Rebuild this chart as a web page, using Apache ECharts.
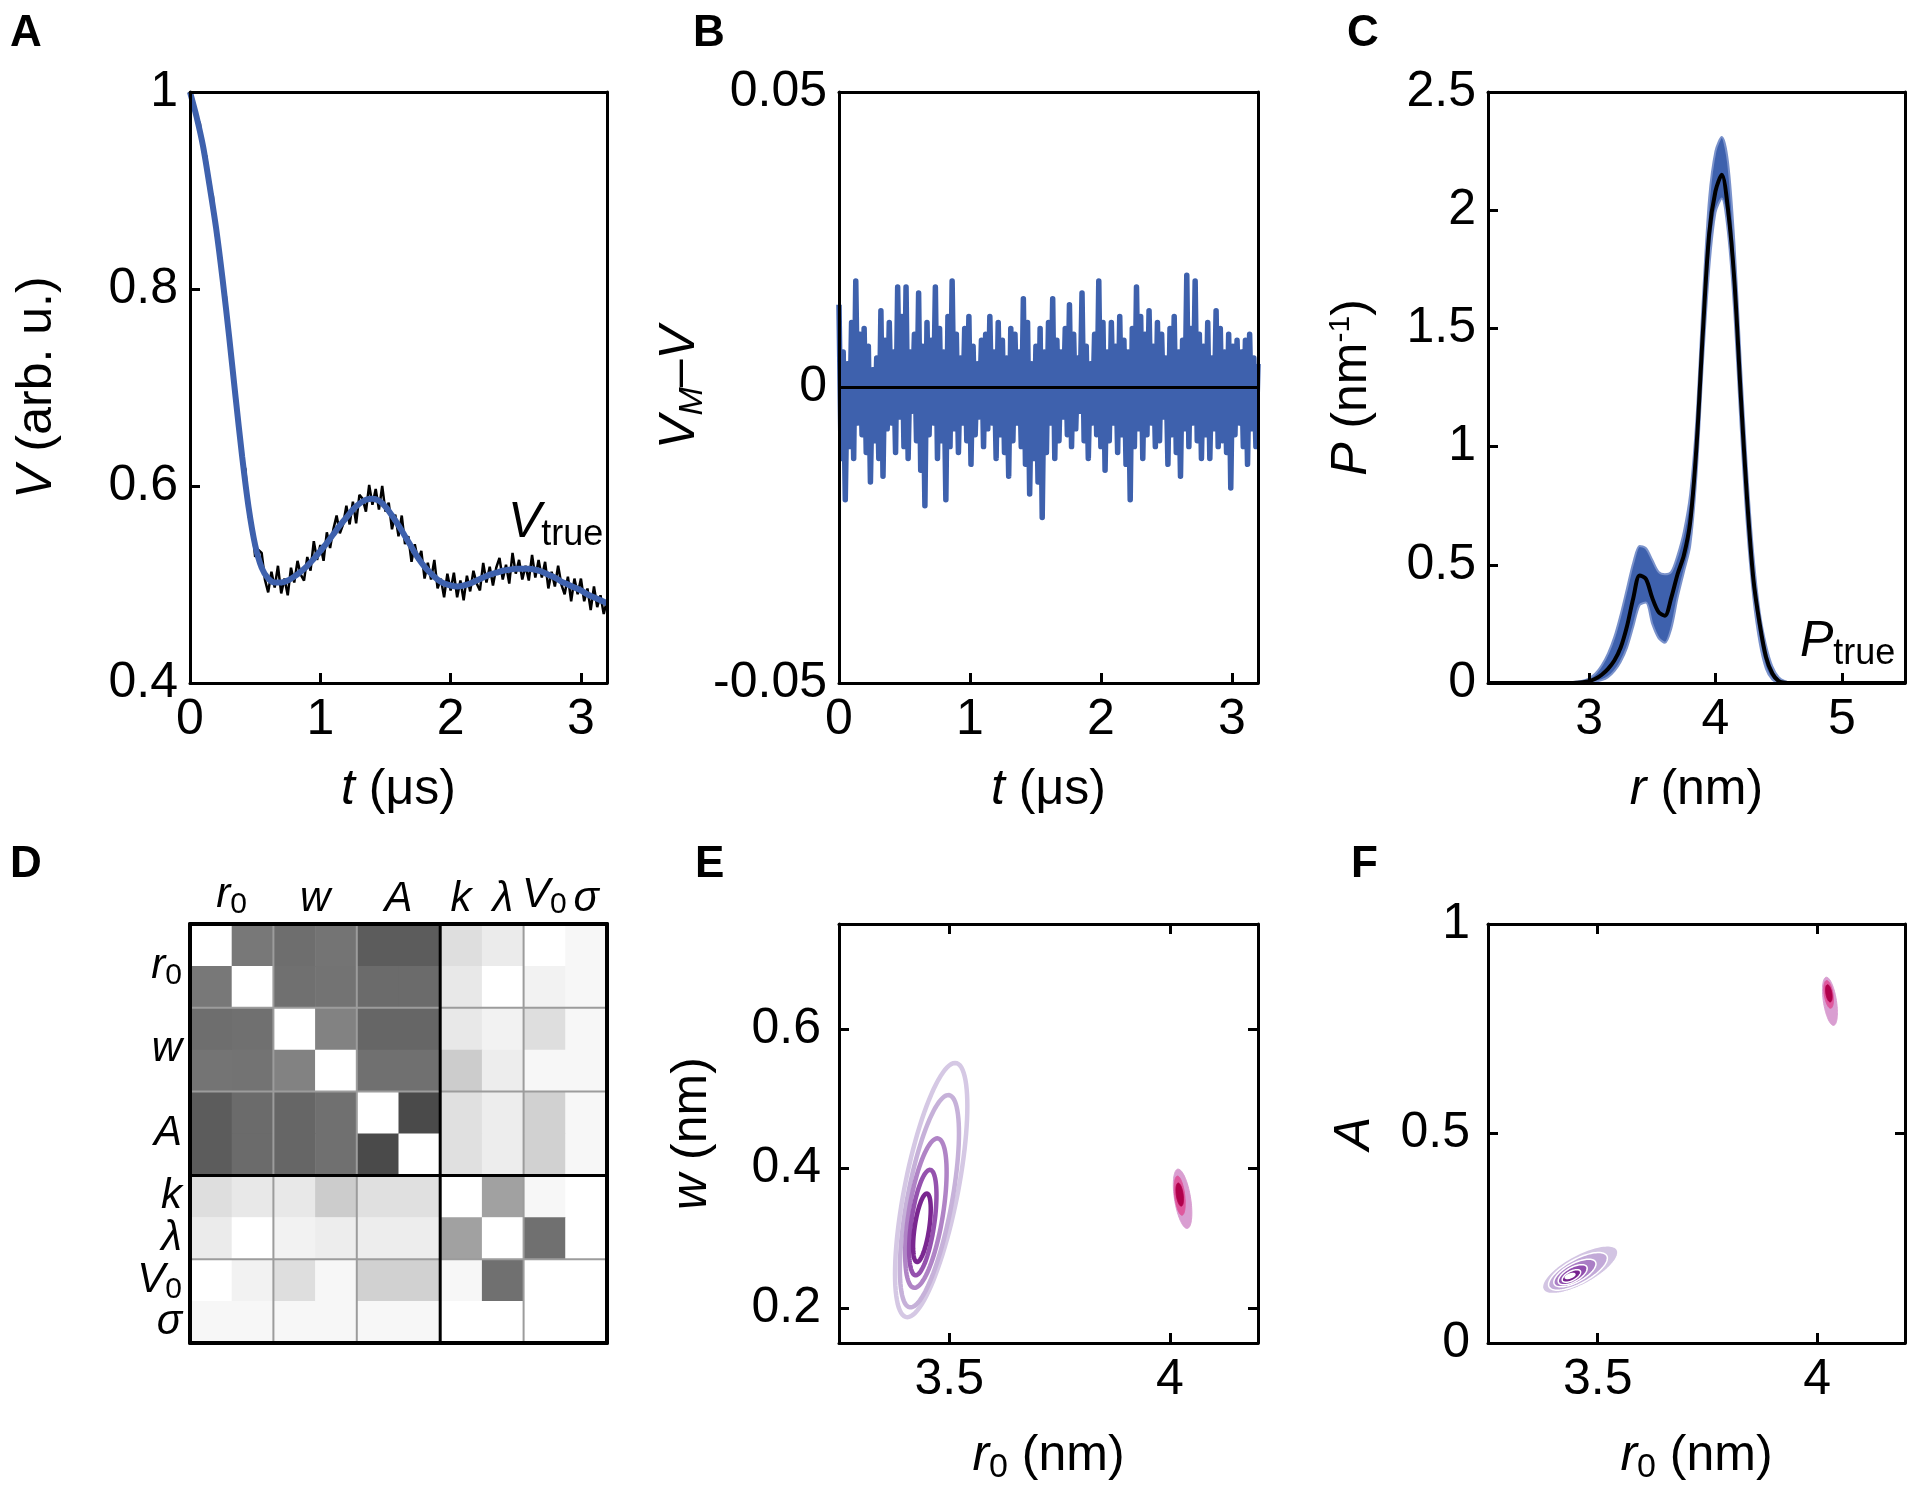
<!DOCTYPE html>
<html><head><meta charset="utf-8">
<script src="https://cdn.jsdelivr.net/npm/echarts@6/dist/echarts.min.js"></script>
<style>html,body{margin:0;padding:0;background:#fff}#c{width:1920px;height:1491px}</style>
</head><body><div id="c"></div>
<script>
// ---------------- DATA ----------------
// Panel A: time axis (µs)
const tStepFit = 0.05;
const vFit = [1.000,0.975,0.945,0.905,0.862,0.810,0.752,0.690,0.630,0.578,0.540,0.517,0.506,0.502,0.502,0.504,0.508,0.513,0.519,0.526,
0.534,0.542,0.551,0.560,0.568,0.576,0.582,0.586,0.587,0.585,0.579,0.570,0.560,0.549,0.538,0.527,0.518,0.511,0.505,0.501,
0.499,0.498,0.499,0.501,0.504,0.507,0.510,0.512,0.514,0.515,0.516,0.516,0.516,0.515,0.513,0.510,0.507,0.503,0.500,0.497,
0.494,0.490,0.487,0.484,0.481];
const tStepExp = 0.025;
const vExp = [1.000,0.991,0.970,0.969,0.939,0.935,0.902,0.895,0.854,0.842,0.801,0.793,0.747,0.729,0.679,0.666,0.627,0.617,0.569,0.563,
0.528,0.535,0.532,0.505,0.492,0.513,0.497,0.519,0.491,0.506,0.489,0.517,0.502,0.524,0.510,0.504,0.528,0.514,0.544,0.525,
0.540,0.524,0.553,0.537,0.556,0.570,0.552,0.561,0.580,0.561,0.584,0.562,0.591,0.587,0.574,0.601,0.581,0.597,0.576,0.600,
0.574,0.583,0.556,0.571,0.549,0.570,0.541,0.549,0.523,0.541,0.524,0.534,0.506,0.522,0.505,0.525,0.496,0.506,0.487,0.511,
0.494,0.512,0.487,0.504,0.484,0.509,0.493,0.514,0.501,0.494,0.522,0.502,0.518,0.499,0.517,0.527,0.505,0.520,0.501,0.532,
0.511,0.525,0.505,0.519,0.504,0.530,0.507,0.525,0.507,0.523,0.496,0.513,0.498,0.519,0.500,0.490,0.508,0.483,0.506,0.490,
0.506,0.483,0.496,0.474,0.498,0.477,0.489,0.470,0.484];
const tTicks = [0,1,2,3];
const vTicksInterval = 0.2;

// Panel B: residuals V_M - V
const tStepRes = 0.016;
const resid = [
0.014,-0.012,0.006,-0.019,0.004,-0.010,0.011,-0.012,0.018,-0.006,
0.009,-0.008,0.010,-0.011,0.007,-0.016,0.003,-0.009,0.005,-0.012,
0.013,-0.015,0.008,-0.007,0.011,-0.006,0.006,-0.011,0.017,-0.005,
0.012,-0.010,0.017,-0.012,0.006,-0.004,0.009,-0.009,0.016,-0.014,
0.007,-0.020,0.011,-0.008,0.008,-0.006,0.017,-0.012,0.010,-0.009,
0.006,-0.019,0.012,-0.010,0.018,-0.007,0.009,-0.011,0.005,-0.006,
0.010,-0.009,0.012,-0.013,0.007,-0.008,0.004,-0.005,0.008,-0.010,
0.009,-0.007,0.012,-0.006,0.006,-0.012,0.011,-0.008,0.008,-0.011,
0.005,-0.015,0.010,-0.009,0.009,-0.006,0.006,-0.010,0.015,-0.013,
0.011,-0.018,0.004,-0.012,0.007,-0.016,0.010,-0.022,0.006,-0.011,
0.011,-0.006,0.015,-0.012,0.008,-0.009,0.006,-0.005,0.010,-0.008,
0.014,-0.010,0.009,-0.007,0.005,-0.004,0.016,-0.009,0.007,-0.012,
0.004,-0.006,0.009,-0.008,0.018,-0.010,0.011,-0.014,0.006,-0.009,
0.011,-0.006,0.007,-0.011,0.012,-0.008,0.008,-0.013,0.006,-0.019,
0.010,-0.010,0.017,-0.007,0.012,-0.012,0.009,-0.008,0.013,-0.006,
0.007,-0.010,0.011,-0.009,0.009,-0.005,0.005,-0.013,0.010,-0.008,
0.012,-0.011,0.006,-0.015,0.008,-0.007,0.019,-0.010,0.010,-0.006,
0.018,-0.009,0.009,-0.012,0.007,-0.008,0.011,-0.012,0.005,-0.007,
0.013,-0.010,0.010,-0.009,0.006,-0.011,0.009,-0.017,0.007,-0.008,
0.008,-0.006,0.006,-0.010,0.008,-0.013,0.009,-0.007,0.005,-0.010,
0.004];

// Panel C: distance distributions (r from 2.2 nm in 0.05 nm steps)
const rStart = 2.2, rStep = 0.05;
const Z13 = [0,0,0,0,0,0,0,0,0,0,0,0,0];
const Z18 = [0,0,0,0,0,0,0,0,0,0,0,0,0,0,0,0,0,0];
const pTrue = Z13.concat([0.000,0.001,0.003,0.008,0.018,0.035,0.060,0.095,0.150,0.240,0.360,0.455,0.440,0.360,0.300,0.285,0.360,0.460,
0.540,0.680,1.000,1.480,1.900,2.080,2.150,2.000,1.700,1.220,0.780,0.440,0.250,0.110,0.040,0.008,0.001,0.000]).concat(Z18);
const pUpper = Z13.concat([0.002,0.005,0.010,0.020,0.040,0.075,0.125,0.195,0.290,0.400,0.510,0.580,0.570,0.520,0.470,0.460,0.470,0.540,
0.640,0.800,1.120,1.620,2.050,2.250,2.310,2.200,1.860,1.360,0.900,0.540,0.300,0.160,0.070,0.025,0.008,0.002]).concat(Z18);
const pLower = Z13.concat([0,0,0.001,0.003,0.006,0.012,0.025,0.050,0.090,0.150,0.240,0.330,0.340,0.250,0.190,0.170,0.230,0.360,
0.470,0.580,0.880,1.350,1.750,1.990,2.050,1.900,1.560,1.080,0.660,0.360,0.170,0.060,0.015,0.002,0,0]).concat(Z18);
const rTicks = [3,4,5];

// Panel D: correlation magnitudes (diagonal shown blank)
const corr = [
[0,0.53,0.57,0.545,0.64,0.64,0.13,0.08,0,0.03],
[0.53,0,0.56,0.55,0.58,0.58,0.09,0,0.05,0.03],
[0.57,0.56,0,0.49,0.60,0.60,0.09,0.05,0.13,0.03],
[0.545,0.55,0.49,0,0.56,0.56,0.20,0.07,0.03,0.03],
[0.64,0.58,0.60,0.56,0,0.71,0.12,0.07,0.18,0.03],
[0.64,0.58,0.60,0.56,0.71,0,0.12,0.07,0.18,0.03],
[0.13,0.09,0.09,0.20,0.12,0.12,0,0.37,0.03,0],
[0.08,0,0.05,0.07,0.07,0.07,0.37,0,0.56,0],
[0,0.05,0.13,0.03,0.18,0.18,0.03,0.56,0,0],
[0.03,0.03,0.03,0.03,0.03,0.03,0,0,0,0]];
const paramPos = [1,3,5,6.5,7.5,8.5,9.5];
const paramLabels = ['{i|r}{s|0}','{i|w}','{i|A}','{i|k}','{i|λ}','{i|V}{s|0}','{i|σ}'];
const groupEdges = [2,4,8];
const blockEdges = [6];

// Panels E/F: contour levels [cx, cy, halfWidthX, halfWidthY, correlation, level]
const contE_left = [
[3.459,0.369,0.082,0.182,0.66,0],
[3.455,0.353,0.067,0.152,0.64,1],
[3.447,0.336,0.047,0.107,0.55,2],
[3.440,0.3225,0.031,0.0755,0.52,3],
[3.438,0.315,0.020,0.049,0.55,4]];
const contE_right = [
[4.029,0.3565,0.021,0.0425,-0.48,0],
[4.0225,0.361,0.0125,0.028,-0.4,1],
[4.0225,0.3625,0.0085,0.0165,-0.4,2]];
const contF_left = [
[3.460,0.175,0.086,0.057,0.72,0],
[3.455,0.171,0.067,0.045,0.70,1],
[3.448,0.167,0.048,0.033,0.66,2],
[3.443,0.163,0.033,0.024,0.62,3],
[3.440,0.160,0.021,0.015,0.60,4],
[3.437,0.160,0.011,0.006,0.60,5]];
const contF_right = [
[4.029,0.8155,0.017,0.0575,-0.47,0],
[4.026,0.832,0.011,0.033,-0.4,1],
[4.0265,0.8345,0.0075,0.0205,-0.4,2]];
const r0Ticks = [3.5,4];
const wTicks = [0.2,0.4,0.6];

// ---------------- STYLE ----------------
const FONT = '"Liberation Sans", Arial, Helvetica, sans-serif';
const FS = 50;
const BLUE = '#3e61ad';
const purpleLine = ['#d5c8e4','#c6b1d9','#b084c6','#9552ae','#7a2790'];
const pinkFill = ['#d99ed1','#df589d','#b1004b'];
const purpleFill = ['#d3c5e3','#c2a9d8','#aa7ec5','#914eae','#76238e','#ffffff'];

const rich = {
  i: {fontFamily: FONT, fontSize: FS, fontStyle: 'italic', color: '#000'},
  n: {fontFamily: FONT, fontSize: FS, color: '#000'},
  sub: {fontFamily: FONT, fontSize: 34, color: '#000', padding: [24,0,0,0]},
  subi: {fontFamily: FONT, fontSize: 34, fontStyle: 'italic', color: '#000', padding: [24,0,0,0]},
  sup: {fontFamily: FONT, fontSize: 30, color: '#000', padding: [0,0,22,0]}
};
const richD = {
  i: {fontFamily: FONT, fontSize: 42, fontStyle: 'italic', color: '#000'},
  s: {fontFamily: FONT, fontSize: 30, color: '#000', padding: [20,0,0,0]}
};

function axis(o) {
  const base = {
    type: 'value', z: 5,
    splitLine: {show: false},
    axisLine: {show: true, onZero: false, lineStyle: {color: '#000', width: 3}},
    axisTick: {show: true, inside: true, length: 10, lineStyle: {color: '#000', width: 3}},
    axisLabel: {show: true, color: '#000', fontFamily: FONT, fontSize: FS, margin: 12},
    nameLocation: 'middle',
    nameTextStyle: {color: '#000', fontFamily: FONT, fontSize: FS, rich: rich}
  };
  for (const k in o) {
    if (o[k] && typeof o[k] === 'object' && !Array.isArray(o[k]) && base[k] && typeof base[k] === 'object')
      base[k] = Object.assign({}, base[k], o[k]);
    else base[k] = o[k];
  }
  return base;
}
function mirror(o) {
  const m = Object.assign({}, o);
  m.axisLabel = Object.assign({}, o.axisLabel || {}, {show: false});
  m.name = '';
  return axis(m);
}

const grids = [
  {left: 190, top: 92, width: 417, height: 591},
  {left: 839, top: 92, width: 419, height: 591},
  {left: 1488, top: 92, width: 417, height: 591},
  {left: 190, top: 924, width: 417, height: 419},
  {left: 839, top: 924, width: 419, height: 419},
  {left: 1488, top: 924, width: 417, height: 419}
];

// D label sets (split over two left axes so that close labels are never dropped)
const dPosSetA = paramPos.filter((p, i) => i % 2 === 0 || i < 3);
const dPosSetB = paramPos.filter(p => dPosSetA.indexOf(p) < 0);
function dLabel(vals, margin) {
  return {customValues: vals, fontSize: 42, rich: richD, margin: margin, showMinLabel: true, showMaxLabel: true, hideOverlap: false,
          formatter: v => paramLabels[paramPos.indexOf(v)] || ''};
}

const xAxes = [
  // A
  axis({gridIndex: 0, min: 0, max: 3.2, position: 'bottom', axisTick: {customValues: tTicks}, axisLabel: {customValues: tTicks},
        name: '{i|t}{n| (μs)}', nameGap: 82}),
  mirror({gridIndex: 0, min: 0, max: 3.2, position: 'top', axisTick: {show: false}}),
  // B
  axis({gridIndex: 1, min: 0, max: 3.2, position: 'bottom', axisTick: {customValues: tTicks}, axisLabel: {customValues: tTicks},
        name: '{i|t}{n| (μs)}', nameGap: 82}),
  mirror({gridIndex: 1, min: 0, max: 3.2, position: 'top', axisTick: {show: false}}),
  // C
  axis({gridIndex: 2, min: 2.2, max: 5.5, position: 'bottom', axisTick: {customValues: rTicks}, axisLabel: {customValues: rTicks},
        name: '{i|r}{n| (nm)}', nameGap: 82}),
  mirror({gridIndex: 2, min: 2.2, max: 5.5, position: 'top', axisTick: {show: false}}),
  // D
  axis({gridIndex: 3, min: 0, max: 10, position: 'top', axisLine: {lineStyle: {color: '#000', width: 4}}, axisTick: {show: false},
        axisLabel: dLabel(paramPos, 4)}),
  mirror({gridIndex: 3, min: 0, max: 10, position: 'bottom', axisLine: {lineStyle: {color: '#000', width: 4}}, axisTick: {show: false}}),
  // E
  axis({gridIndex: 4, min: 3.25, max: 4.2, position: 'bottom', axisTick: {customValues: r0Ticks}, axisLabel: {customValues: r0Ticks},
        name: '{i|r}{sub|0}{n| (nm)}', nameGap: 84}),
  mirror({gridIndex: 4, min: 3.25, max: 4.2, position: 'top', axisTick: {customValues: r0Ticks}}),
  // F
  axis({gridIndex: 5, min: 3.25, max: 4.2, position: 'bottom', axisTick: {customValues: r0Ticks}, axisLabel: {customValues: r0Ticks},
        name: '{i|r}{sub|0}{n| (nm)}', nameGap: 84}),
  mirror({gridIndex: 5, min: 3.25, max: 4.2, position: 'top', axisTick: {customValues: r0Ticks}})
];

const yAxes = [
  // A (0,1)
  axis({gridIndex: 0, min: 0.4, max: 1, interval: vTicksInterval, position: 'left', name: '{i|V}{n| (arb. u.)}', nameGap: 128}),
  mirror({gridIndex: 0, min: 0.4, max: 1, interval: vTicksInterval, position: 'right', axisTick: {show: false}}),
  // B (2,3)
  axis({gridIndex: 1, min: -0.05, max: 0.05, interval: 0.05, position: 'left', name: '{i|V}{subi|M}{n|–}{i|V}', nameGap: 110}),
  mirror({gridIndex: 1, min: -0.05, max: 0.05, interval: 0.05, position: 'right', axisTick: {show: false}}),
  // C (4,5)
  axis({gridIndex: 2, min: 0, max: 2.5, interval: 0.5, position: 'left', name: '{i|P}{n| (nm}{sup|-1}{n|)}', nameGap: 110}),
  mirror({gridIndex: 2, min: 0, max: 2.5, interval: 0.5, position: 'right', axisTick: {show: false}}),
  // D (6,7,8)
  axis({gridIndex: 3, min: 0, max: 10, inverse: true, position: 'left', axisLine: {lineStyle: {color: '#000', width: 4}}, axisTick: {show: false},
        axisLabel: dLabel(dPosSetA, 8)}),
  mirror({gridIndex: 3, min: 0, max: 10, inverse: true, position: 'right', axisLine: {lineStyle: {color: '#000', width: 4}}, axisTick: {show: false}}),
  axis({gridIndex: 3, min: 0, max: 10, inverse: true, position: 'left', offset: 0, axisLine: {show: false}, axisTick: {show: false},
        axisLabel: dLabel(dPosSetB, 8)}),
  // E (9,10)
  axis({gridIndex: 4, min: 0.15, max: 0.75, position: 'left', axisTick: {customValues: wTicks}, axisLabel: {customValues: wTicks, margin: 18},
        name: '{i|w}{n| (nm)}', nameGap: 122}),
  mirror({gridIndex: 4, min: 0.15, max: 0.75, position: 'right', axisTick: {customValues: wTicks}}),
  // F (11,12)
  axis({gridIndex: 5, min: 0, max: 1, interval: 0.5, position: 'left', axisLabel: {margin: 18}, name: '{i|A}', nameGap: 108}),
  mirror({gridIndex: 5, min: 0, max: 1, interval: 0.5, position: 'right'})
];
const Y = {A: 0, B: 2, C: 4, D: 6, E: 9, F: 11};
const X = {A: 0, B: 2, C: 4, D: 6, E: 8, F: 10};

// -------- renderers --------
function ellipsePts(api, cx, cy, dx, dy, rho) {
  const s = Math.sqrt(1 - rho * rho), pts = [];
  for (let k = 0; k < 96; k++) {
    const a = 2 * Math.PI * k / 96;
    pts.push(api.coord([cx + dx * Math.cos(a), cy + dy * (rho * Math.cos(a) + s * Math.sin(a))]));
  }
  return pts;
}
function ellipseSeries(xi, yi, data, colors, mode) {
  return {
    type: 'custom', coordinateSystem: 'cartesian2d', xAxisIndex: xi, yAxisIndex: yi, data: data, silent: true, clip: true, z: 2,
    renderItem: function (params, api) {
      const pts = ellipsePts(api, api.value(0), api.value(1), api.value(2), api.value(3), api.value(4));
      const col = colors[api.value(5)];
      let style;
      if (mode === 'line') style = {fill: 'none', stroke: col, lineWidth: 4.5};
      else if (mode === 'fillWhite') style = {fill: col, stroke: '#ffffff', lineWidth: 1.5};
      else style = {fill: col, stroke: col, lineWidth: 1};
      return {type: 'polygon', shape: {points: pts}, style: style};
    }
  };
}

const series = [];
// A
series.push({type: 'line', xAxisIndex: X.A, yAxisIndex: Y.A, data: vExp.map((v, i) => [i * tStepExp, v]), symbol: 'none',
  lineStyle: {color: '#000', width: 2.5}, z: 2, silent: true});
series.push({type: 'line', xAxisIndex: X.A, yAxisIndex: Y.A, data: vFit.map((v, i) => [i * tStepFit, v]), symbol: 'none', smooth: 0.3,
  lineStyle: {color: BLUE, width: 6}, z: 3, silent: true});
// B
series.push({type: 'line', xAxisIndex: X.B, yAxisIndex: Y.B, data: resid.map((v, i) => [i * tStepRes, v]), symbol: 'none',
  lineStyle: {color: BLUE, width: 5.5, join: 'round'}, z: 2, silent: true,
  markLine: {silent: true, symbol: 'none', label: {show: false}, lineStyle: {color: '#000', width: 3, type: 'solid'}, data: [{yAxis: 0}]}});
// C
const rOf = i => rStart + i * rStep;
series.push({type: 'line', xAxisIndex: X.C, yAxisIndex: Y.C, data: pUpper.map((v, i) => [rOf(i), v]), symbol: 'none', smooth: 0.3,
  lineStyle: {color: '#7a92cb', width: 2}, areaStyle: {color: BLUE, opacity: 1}, z: 2, silent: true});
series.push({type: 'line', xAxisIndex: X.C, yAxisIndex: Y.C, data: pLower.map((v, i) => [rOf(i), v]), symbol: 'none', smooth: 0.3,
  lineStyle: {color: '#7a92cb', width: 2}, areaStyle: {color: '#ffffff', opacity: 1}, z: 2, silent: true});
series.push({type: 'line', xAxisIndex: X.C, yAxisIndex: Y.C, data: pTrue.map((v, i) => [rOf(i), v]), symbol: 'none', smooth: 0.3,
  lineStyle: {color: '#000', width: 4}, z: 3, silent: true});
// D cells
const cellData = [];
corr.forEach((row, r) => row.forEach((v, c) => cellData.push([c, r, v])));
const dCellIndex = series.length;
series.push({type: 'custom', coordinateSystem: 'cartesian2d', xAxisIndex: X.D, yAxisIndex: Y.D, data: cellData, silent: true, z: 1,
  renderItem: function (params, api) {
    const c = api.value(0), r = api.value(1);
    const p0 = api.coord([c, r]), p1 = api.coord([c + 1, r + 1]);
    return {type: 'rect', shape: {x: Math.min(p0[0], p1[0]), y: Math.min(p0[1], p1[1]),
      width: Math.abs(p1[0] - p0[0]) + 0.5, height: Math.abs(p1[1] - p0[1]) + 0.5},
      style: {fill: api.visual('color')}};
  }});
// D dividers
const edgeData = groupEdges.map(p => [p, p, 0]).concat(blockEdges.map(p => [p, p, 1]));
series.push({type: 'custom', coordinateSystem: 'cartesian2d', xAxisIndex: X.D, yAxisIndex: Y.D, data: edgeData, silent: true, z: 3,
  renderItem: function (params, api) {
    const p = api.value(0), k = api.value(2);
    const a = api.coord([p, 0]), b = api.coord([p, 10]), c = api.coord([0, p]), d = api.coord([10, p]);
    const st = k ? {stroke: '#000', lineWidth: 3} : {stroke: '#9c9c9c', lineWidth: 2};
    return {type: 'group', children: [
      {type: 'line', shape: {x1: a[0], y1: a[1], x2: b[0], y2: b[1]}, style: st},
      {type: 'line', shape: {x1: c[0], y1: c[1], x2: d[0], y2: d[1]}, style: st}]};
  }});
// E
series.push(ellipseSeries(X.E, Y.E, contE_left, purpleLine, 'line'));
series.push(ellipseSeries(X.E, Y.E, contE_right, pinkFill, 'fill'));
// F
series.push(ellipseSeries(X.F, Y.F, contF_left, purpleFill, 'fillWhite'));
series.push(ellipseSeries(X.F, Y.F, contF_right, pinkFill, 'fill'));

// -------- text annotations --------
const letterStyle = {fontFamily: FONT, fontWeight: 'bold', fontSize: 44, fill: '#000', align: 'left', verticalAlign: 'middle'};
const annRich = {
  i: {fontFamily: FONT, fontSize: FS, fontStyle: 'italic', fill: '#000'},
  s: {fontFamily: FONT, fontSize: 36, fill: '#000', padding: [24, 0, 0, 0]}
};
const graphic = [
  {type: 'text', x: 10, y: 34, style: Object.assign({text: 'A'}, letterStyle)},
  {type: 'text', x: 693, y: 34, style: Object.assign({text: 'B'}, letterStyle)},
  {type: 'text', x: 1347, y: 34, style: Object.assign({text: 'C'}, letterStyle)},
  {type: 'text', x: 10, y: 865, style: Object.assign({text: 'D'}, letterStyle)},
  {type: 'text', x: 695, y: 865, style: Object.assign({text: 'E'}, letterStyle)},
  {type: 'text', x: 1351, y: 865, style: Object.assign({text: 'F'}, letterStyle)},
  {type: 'text', x: 508, y: 553, z: 10, style: {text: '{i|V}{s|true}', rich: annRich, align: 'left', verticalAlign: 'bottom'}},
  {type: 'text', x: 1800, y: 672, z: 10, style: {text: '{i|P}{s|true}', rich: annRich, align: 'left', verticalAlign: 'bottom'}}
];

const chart = echarts.init(document.getElementById('c'), null, {renderer: 'canvas'});
chart.setOption({
  animation: false,
  backgroundColor: '#ffffff',
  grid: grids,
  xAxis: xAxes,
  yAxis: yAxes,
  visualMap: [{type: 'continuous', show: false, seriesIndex: dCellIndex, dimension: 2, min: 0, max: 1,
    inRange: {color: ['#ffffff', '#000000']}}],
  series: series,
  graphic: graphic
});
</script></body></html>
